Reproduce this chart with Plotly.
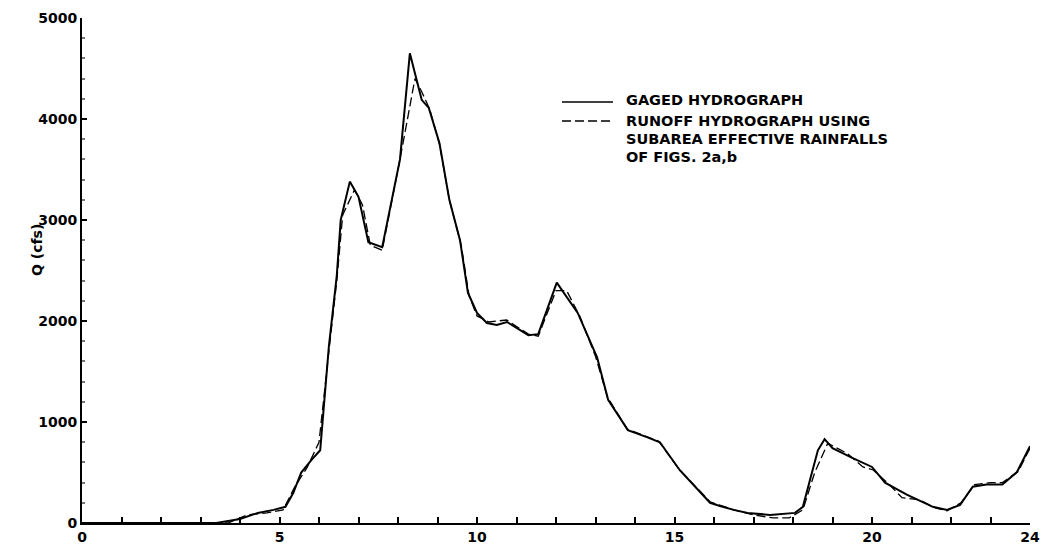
import plotly.graph_objects as go

# Gaged hydrograph (hours, cfs)
gaged_t = [0, 3.4, 4.0, 4.45, 4.85, 5.15, 5.35, 5.55, 5.8, 6.03, 6.25, 6.45, 6.55, 6.78, 7.0,
           7.25, 7.6, 8.05, 8.3, 8.48, 8.6, 8.78, 9.05, 9.3, 9.57, 9.77, 10.0, 10.25, 10.5,
           10.76, 11.3, 11.55, 12.02, 12.55, 13.04, 13.32, 13.82, 14.3, 14.63, 15.14, 15.9,
           16.15, 16.5, 16.85, 17.42, 18.05, 18.25, 18.48, 18.63, 18.8, 19.0, 19.5, 20.0,
           20.33, 20.88, 21.54, 21.9, 22.23, 22.55, 22.9, 23.3, 23.67, 24.0]
gaged_q = [0, 0, 40, 100, 130, 160, 300, 500, 620, 720, 1750, 2450, 3000, 3380, 3230,
           2780, 2730, 3600, 4650, 4390, 4190, 4110, 3760, 3200, 2800, 2280, 2080, 1980, 1960,
           1990, 1860, 1870, 2380, 2080, 1640, 1220, 920, 850, 800, 520, 200,
           168, 130, 100, 80, 100, 160, 500, 720, 830, 740, 645, 555,
           400, 280, 160, 130, 180, 360, 380, 380, 505, 760]

# Runoff hydrograph using subarea effective rainfalls
runoff_t = [0, 3.7, 4.18, 4.68, 5.09, 5.39, 5.7, 6.0, 6.25, 6.45, 6.6, 6.9, 7.1, 7.3, 7.6,
            8.05, 8.43, 8.6, 8.8, 9.05, 9.3, 9.6, 9.8, 10.0, 10.3, 10.75, 11.3, 11.55, 12.0,
            12.27, 12.6, 13.0, 13.3, 13.8, 14.6, 15.1, 15.9, 16.5, 17.0, 17.5, 17.9, 18.25,
            18.55, 18.88, 19.37, 19.77, 20.03, 20.4, 20.76, 21.2, 21.6, 21.9, 22.25, 22.6,
            23.0, 23.3, 23.7, 24.0]
runoff_q = [0, 0, 80, 100, 130, 360, 550, 800, 1700, 2400, 3050, 3300, 3150, 2750, 2700,
            3600, 4400, 4270, 4100, 3750, 3200, 2750, 2250, 2050, 1990, 2010, 1870, 1850, 2300,
            2300, 2050, 1650, 1250, 930, 810, 540, 210, 130, 80, 50, 50, 130,
            500, 790, 690, 555, 525, 395, 250, 230, 150, 120, 200, 380,
            400, 400, 510, 740]

x_ticks = list(range(0, 25))
x_labels = {0: "0", 5: "5", 10: "10", 15: "15", 20: "20", 24: "24"}
y_ticks = [0, 1000, 2000, 3000, 4000, 5000]

legend_lines = ["GAGED HYDROGRAPH", "RUNOFF HYDROGRAPH USING",
                "SUBAREA EFFECTIVE RAINFALLS", "OF FIGS. 2a,b"]
y_title = "Q (cfs)"

FONT = "DejaVu Sans"
BOLD = dict(weight="bold")

fig = go.Figure()
fig.add_trace(go.Scatter(x=gaged_t, y=gaged_q, mode="lines",
                         line=dict(color="black", width=2), showlegend=False))
fig.add_trace(go.Scatter(x=runoff_t, y=runoff_q, mode="lines",
                         line=dict(color="black", width=1.3, dash="9px,4px"), showlegend=False))

# The page body has an 8px margin; size the figure so the plot area lands
# at page pixels x 82..1030, y 18..523.
OFF = 8
W, H = 1048 - OFF, 548 - OFF
PX0, PX1, PY0, PY1 = 82, 1030, 18, 523
L, R, T, B = PX0 - OFF, W + OFF - PX1, PY0 - OFF, H + OFF - PY1

def px(xp):
    return (xp - PX0) / (PX1 - PX0)

def py(yp):
    return (PY1 - yp) / (PY1 - PY0)

# Legend samples
fig.add_shape(type="line", xref="paper", yref="paper", x0=px(562), x1=px(613),
              y0=py(102), y1=py(102), line=dict(color="black", width=1.5))
fig.add_shape(type="line", xref="paper", yref="paper", x0=px(562), x1=px(613),
              y0=py(121), y1=py(121), line=dict(color="black", width=1.5, dash="9px,4px"))
for i, yy in enumerate([100, 121, 139, 157]):
    fig.add_annotation(xref="paper", yref="paper", x=px(624), y=py(yy),
                       text=legend_lines[i], showarrow=False, xanchor="left", yanchor="middle",
                       font=dict(family=FONT, size=14.5, color="black", **BOLD))

fig.add_annotation(xref="paper", yref="paper", x=px(37), y=py(250), text=y_title,
                   textangle=-90, showarrow=False, xanchor="center", yanchor="middle",
                   font=dict(family=FONT, size=14, color="black", **BOLD))

fig.update_layout(
    width=W, height=H,
    margin=dict(l=L, r=R, t=T, b=B, autoexpand=False),
    plot_bgcolor="white", paper_bgcolor="white",
    font=dict(family=FONT, color="black", size=14),
    xaxis=dict(range=[0, 24], tickmode="array", tickvals=x_ticks,
               ticktext=[x_labels.get(v, "") for v in x_ticks],
               ticks="inside", ticklen=6, tickwidth=1.5, tickcolor="black",
               showline=True, linecolor="black", linewidth=2, showgrid=False,
               zeroline=False, automargin=False,
               tickfont=dict(family=FONT, size=14, **BOLD)),
    yaxis=dict(range=[0, 5000], tickmode="array", tickvals=y_ticks,
               ticks="inside", ticklen=5, tickwidth=1.5, tickcolor="black",
               minor=dict(dtick=200, ticks="inside", ticklen=3, tickcolor="#777"),
               showline=True, linecolor="black", linewidth=2, showgrid=False,
               zeroline=False, automargin=False,
               tickfont=dict(family=FONT, size=14, **BOLD)),
)

fig.write_html("out.html")
